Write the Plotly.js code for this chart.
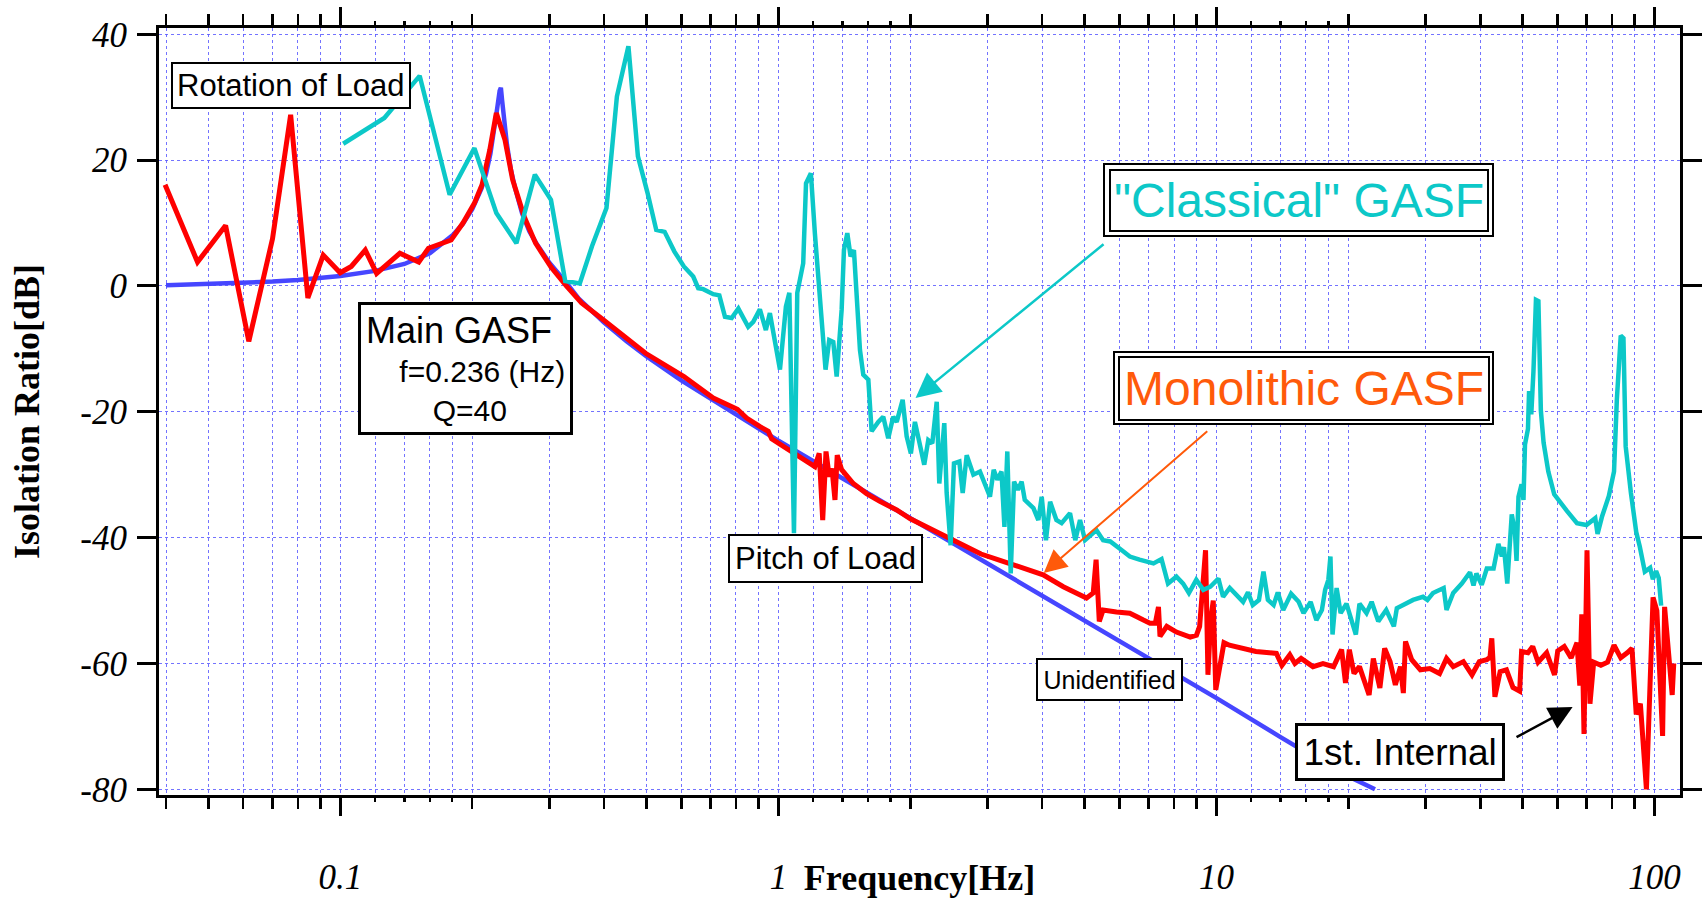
<!DOCTYPE html>
<html><head><meta charset="utf-8">
<script src="https://cdn.plot.ly/plotly-3.0.1.min.js"></script>
<style>html,body{margin:0;padding:0;background:#fff;}#chart{width:1703px;height:898px;}</style>
</head><body><div id="chart"></div>
<script>
// ---- data ----
const blueFreq = [0.04,0.05,0.06,0.07,0.08,0.09,0.1,0.12,0.14,0.16,0.18,0.19,0.2,0.21,0.215,0.22,0.225,0.228,0.231,0.2325,0.234,0.236,0.24,0.245,0.25,0.26,0.27,0.28,0.3,0.33,0.35,0.4,0.45,0.5,0.6,0.7,0.8,0.9,1,1.5,2,3,4,5,7,10,14,19,23];
const blueDb = [0.1,0.3,0.5,0.7,0.95,1.25,1.6,2.4,3.5,5.2,8.0,9.8,12.2,15.5,17.8,21.0,25.0,28.2,31.0,31.5,29.5,27.0,22.5,18.5,15.8,11.5,8.7,6.8,3.7,0.3,-2.0,-5.8,-8.8,-11.2,-15.0,-17.9,-20.4,-22.6,-24.6,-31.8,-36.9,-44.1,-49.2,-53.2,-59.2,-65.5,-71.7,-77.2,-80];

const redFreq = [0.0398,0.0472,0.0547,0.0618,0.070,0.077,0.0843,0.0914,0.0999,0.1059,0.114,0.121,0.1367,0.151,0.1589,0.172,0.179,0.1905,0.2024,0.2106,0.2193,0.227,0.2376,0.2473,0.2628,0.279,0.3026,0.328,0.3553,0.3988,0.4974,0.6085,0.71,0.806,0.846,0.9097,0.948,0.965,1.0,1.053,1.10,1.16,1.211,1.239,1.262,1.284,1.306,1.325,1.346,1.362,1.394,1.482,1.589,1.7,1.862,2.0,2.179,2.4,2.643,2.9,3.205,3.38,3.62,4.02,4.47,5.05,5.23,5.31,5.40,5.51,5.91,6.34,6.81,7.05,7.25,7.37,7.43,7.70,8.10,8.71,9.0,9.15,9.44,9.56,9.70,9.83,9.96,10.4,10.7,11.5,11.9,12.3,13.2,13.7,14.1,14.7,15.1,15.6,16.6,17.5,18.5,19.3,19.7,20.1,20.6,21.2,22.3,22.8,23.6,24.2,24.9,25.6,26.3,26.7,27.0,27.9,29.2,30.7,32.3,33.5,34.7,36.6,38.3,39.8,41.4,42.1,42.5,43.2,44.4,45.9,47.5,49.2,49.7,51.4,52.7,54.2,56.7,59.1,60.1,62.2,64.5,66.5,67.5,68.2,69.0,70.1,71.2,72.6,75.4,78.1,80.8,83.7,86.6,88.8,90.8,92.8,95.8,99.2,101.2,104.3,105.4,107.9,109.7,110.6];
const redDb = [16.1,3.8,9.6,-8.8,7.5,27.2,-1.9,4.9,2.1,3.1,5.7,2.0,5.2,3.8,6.0,6.8,7.3,10.0,13.2,16.1,21.6,27.5,23.2,16.9,11.0,6.8,3.0,0.0,-2.7,-5.4,-10.7,-14.4,-17.8,-19.6,-21.0,-22.4,-23.1,-24.3,-25.0,-26.1,-26.9,-27.9,-28.7,-26.6,-37.2,-26.3,-30.3,-29.0,-34.0,-26.9,-29.2,-31.4,-33.0,-34.2,-35.6,-37.0,-38.3,-39.8,-41.4,-42.6,-43.6,-44.1,-44.9,-45.9,-47.8,-49.6,-48.8,-43.5,-53.3,-51.5,-51.8,-52.0,-53.1,-53.6,-53.6,-51.0,-55.7,-54.1,-55.0,-55.8,-55.5,-54.1,-42.0,-61.8,-53.0,-50.0,-64.2,-56.7,-57.1,-57.6,-57.9,-58.1,-58.3,-58.4,-60.3,-58.6,-60.0,-59.2,-60.5,-60.0,-60.5,-57.8,-63.1,-57.8,-61.6,-60.5,-65.0,-59.2,-63.9,-57.6,-59.7,-63.4,-60.5,-64.7,-56.5,-59.4,-61.0,-60.8,-61.6,-59.2,-60.5,-59.7,-61.8,-59.7,-59.4,-59.0,-56.0,-65.3,-61.3,-61.0,-63.8,-64.4,-58.1,-58.3,-57.3,-59.8,-58.3,-61.8,-58.0,-57.3,-59.1,-56.7,-63.5,-52.2,-71.2,-42.0,-66.4,-59.8,-60.3,-59.8,-57.1,-59.1,-58.3,-57.6,-68.1,-66.4,-80.0,-49.5,-51.6,-71.5,-51.0,-59.0,-65.0,-60.0];

const cyanFreq = [0.1015,0.126,0.1517,0.1776,0.2023,0.227,0.2523,0.278,0.3025,0.326,0.352,0.3753,0.405,0.4278,0.4545,0.4778,0.5025,0.5261,0.5498,0.5784,0.6083,0.639,0.656,0.6735,0.7099,0.733,0.755,0.782,0.810,0.853,0.876,0.907,0.936,0.956,1.008,1.040,1.059,1.085,1.104,1.139,1.156,1.186,1.211,1.244,1.281,1.306,1.334,1.358,1.394,1.411,1.436,1.461,1.487,1.535,1.562,1.604,1.632,1.690,1.735,1.781,1.828,1.862,1.921,1.962,2.006,2.049,2.104,2.152,2.198,2.245,2.298,2.329,2.391,2.421,2.472,2.516,2.588,2.634,2.690,2.786,2.884,3.04,3.10,3.16,3.23,3.28,3.33,3.39,3.45,3.52,3.59,3.65,3.82,3.92,3.99,4.08,4.17,4.31,4.43,4.63,4.76,4.88,5.01,5.14,5.32,5.51,5.72,6.08,6.34,6.67,7.18,7.49,7.75,8.10,8.39,8.65,8.99,9.33,9.68,10.1,10.35,10.72,11.2,11.5,11.8,12.1,12.5,12.8,13.1,13.5,13.8,14.2,14.8,15.4,15.8,16.4,16.9,17.4,17.7,18.0,18.2,18.4,18.8,19.2,19.8,20.3,20.8,21.2,22.0,22.6,23.4,24.4,25.4,25.8,27.1,28.1,29.6,30.3,31.2,33.0,33.5,34.7,36.3,37.9,38.6,39.2,40.3,41.4,42.9,44.0,44.8,45.3,46.1,47.2,48.0,48.4,48.9,49.7,50.2,50.6,51.4,51.7,52.3,52.9,53.6,54.3,55.0,55.8,57.2,59.0,63.0,66.5,69.9,73.2,74.1,75.9,78.6,80.8,82.0,83.7,84.9,85.9,88.3,90.8,92.5,95.0,97.7,99.1,100.8,102.2,103.5];
const cyanDb = [22.6,26.7,33.4,14.5,21.9,11.6,6.8,17.7,13.7,0.8,0.4,6.3,12.4,30.1,38.1,20.6,14.8,8.9,8.6,5.5,3.1,1.5,-0.35,-0.5,-1.3,-1.5,-4.9,-5.1,-3.6,-6.5,-5.7,-3.7,-7.0,-4.3,-13.3,-3.3,-1.1,-39.3,-1.1,3.6,16.3,17.9,8.4,-2.7,-13.3,-8.6,-8.9,-14.4,-3.8,5.7,8.4,4.7,5.7,-10.2,-14.1,-14.9,-23.1,-21.6,-20.8,-24.2,-20.8,-21.6,-18.1,-23.9,-26.6,-21.6,-25.0,-28.4,-24.5,-25.0,-18.4,-31.4,-21.8,-32.9,-41.2,-28.2,-27.9,-32.9,-26.9,-30.0,-29.5,-33.5,-29.2,-30.8,-29.5,-38.3,-26.3,-45.7,-31.1,-32.4,-31.1,-34.0,-35.3,-37.2,-33.5,-40.4,-34.3,-37.2,-37.7,-36.1,-40.4,-37.2,-40.4,-39.8,-38.8,-40.4,-40.6,-42.0,-43.0,-43.5,-44.1,-43.4,-47.3,-46.2,-47.3,-48.8,-46.7,-48.3,-47.8,-46.5,-49.4,-48.0,-49.4,-50.2,-48.7,-50.7,-49.9,-45.4,-49.9,-50.7,-48.7,-51.5,-48.9,-50.2,-52.0,-50.2,-53.1,-51.5,-48.3,-46.7,-43.0,-55.4,-48.0,-52.0,-50.5,-53.1,-55.4,-50.5,-52.0,-50.2,-53.3,-51.5,-54.1,-51.2,-50.5,-49.9,-49.4,-49.9,-48.8,-48.0,-51.5,-48.8,-47.3,-45.5,-47.6,-45.7,-47.5,-44.9,-44.9,-41.0,-43.0,-41.5,-47.3,-36.3,-39.1,-43.7,-33.5,-31.5,-34.0,-25.2,-22.7,-16.7,-20.4,-13.6,-2.2,-2.4,-19.8,-24.9,-29.5,-33.1,-35.7,-37.7,-38.0,-36.9,-39.4,-36.6,-33.4,-29.5,-18.1,-7.9,-8.3,-25.5,-32.9,-39.1,-41.4,-45.4,-44.8,-46.6,-45.3,-46.4,-50.8];

// ---- axis ticks and labels ----
const xMajorTicks = [0.1, 1, 10, 100];
const xMajorLabels = ['0.1', '1', '10', '100'];
const xMinorTicks = [0.04,0.05,0.06,0.07,0.08,0.09,0.2,0.3,0.4,0.5,0.6,0.7,0.8,0.9,2,3,4,5,6,7,8,9,20,30,40,50,60,70,80,90];
const xSmallTicks = [0.12,0.14,0.16,0.18,1.2,1.4,1.6,1.8,12,14,16,18];
const yTicks = [-80,-60,-40,-20,0,20,40];
const yLabels = ['-80','-60','-40','-20','0','20','40'];

const CYAN = '#0cc8c8', RED = '#ff0000', BLUE = '#4646ff', ORANGE = '#ff5a0a';
const GRID = 'rgba(90,90,255,0.85)', GDASH = '3px,3px';
const XR = [-1.414, 2.058];

const traces = [
  {x: blueFreq, y: blueDb, type: 'scatter', mode: 'lines', line: {color: BLUE, width: 4.5}, hoverinfo: 'skip'},
  {x: redFreq, y: redDb, type: 'scatter', mode: 'lines', line: {color: RED, width: 5}, hoverinfo: 'skip'},
  {x: cyanFreq, y: cyanDb, type: 'scatter', mode: 'lines', line: {color: CYAN, width: 4.5}, hoverinfo: 'skip'},
  {x: [], y: [], xaxis: 'x2', yaxis: 'y', type: 'scatter', mode: 'lines', hoverinfo: 'skip', showlegend: false},
  {x: [], y: [], xaxis: 'x3', yaxis: 'y', type: 'scatter', mode: 'lines', hoverinfo: 'skip', showlegend: false}
];

const serif = 'Liberation Serif, Times New Roman, serif';
const sans = 'Liberation Sans, Arial, sans-serif';

function box(text, x, y, size, color, bw, pad, extra) {
  return Object.assign({xref: 'paper', yref: 'paper', x: x, y: y, xanchor: 'center', yanchor: 'middle',
    text: text, showarrow: false, font: {family: sans, size: size, color: color},
    bgcolor: 'white', bordercolor: 'black', borderwidth: bw, borderpad: pad}, extra || {});
}
function arrow(x, y, ax, ay, color, w, size) {
  return {xref: 'paper', yref: 'paper', x: x, y: y, ax: ax, ay: ay, text: '', showarrow: true,
    arrowhead: 2, arrowsize: size, arrowwidth: w, arrowcolor: color, standoff: 0, startstandoff: 0};
}
const NB = '\u00a0';
const annotations = [
  box('Rotation of Load', 0.0871, 0.9250, 31, 'black', 2, 4),
  box('<span style="font-size:36px">Main GASF</span><br>' + NB.repeat(4) + 'f=0.236 (Hz)<br>' + NB.repeat(8) + 'Q=40',
      0.2015, 0.5567, 30, 'black', 3, 5, {align: 'left'}),
  box('"Classical" GASF', 0.7492, 0.7751, 48, 'rgba(0,0,0,0)', 2, 8.5),
  box('"Classical" GASF', 0.7492, 0.7751, 48, CYAN, 2, 3),
  box('Monolithic GASF', 0.7525, 0.5300, 48, 'rgba(0,0,0,0)', 2, 8.3),
  box('Monolithic GASF', 0.7525, 0.5300, 48, ORANGE, 2, 4),
  box('Pitch of Load', 0.4385, 0.3083, 31, 'black', 2, 5),
  box('Unidentified', 0.6252, 0.1512, 25, 'black', 2, 5.5),
  box('1st. Internal', 0.8159, 0.0561, 37, 'black', 3, 5.5),
  arrow(0.4974, 0.5176, 189.5, -155, CYAN, 2.5, 2),
  arrow(0.5817, 0.2894, 165, -143, ORANGE, 2, 2.3),
  arrow(0.9294, 0.1147, -57.6, 31, 'black', 2.5, 1.9)
];

const gridOpts = {showgrid: true, gridcolor: GRID, gridwidth: 1, griddash: GDASH, zeroline: false};

const layout = {
  width: 1703, height: 898,
  margin: {l: 159, r: 23, t: 28, b: 103, pad: 0},
  paper_bgcolor: 'white', plot_bgcolor: 'white',
  showlegend: false,
  // main x axis: labelled decades (its own tick marks are transparent; the labels offset comes from ticklen)
  xaxis: Object.assign({
    type: 'log', range: XR, autorange: false, automargin: false,
    tickmode: 'array', tickvals: xMajorTicks, ticktext: xMajorLabels,
    ticks: 'outside', ticklen: 49, tickwidth: 1, tickcolor: 'rgba(0,0,0,0)',
    showline: true, linewidth: 3, linecolor: 'black', mirror: 'ticks',
    tickfont: {family: serif, size: 35, style: 'italic', color: 'black'},
    ticklabelstandoff: 0,
    minor: {tickmode: 'array', tickvals: xMinorTicks, ticks: 'outside', ticklen: 11, tickwidth: 2.5,
      tickcolor: 'black', showgrid: true, gridcolor: GRID, gridwidth: 1, griddash: GDASH}
  }, gridOpts),
  // small ticks at 1.2..1.8 per decade, and axis title
  xaxis2: Object.assign({
    type: 'log', range: XR, autorange: false, overlaying: 'x', anchor: 'y', side: 'bottom', automargin: false,
    tickmode: 'array', tickvals: xSmallTicks, ticks: 'outside', ticklen: 6, tickwidth: 2.5, tickcolor: 'black',
    showticklabels: false, showline: false, mirror: 'ticks',
    title: {text: 'Frequency[Hz]', standoff: 66, font: {family: serif, size: 36, weight: 'bold', color: 'black'}}
  }, gridOpts),
  // visible long decade ticks
  xaxis3: {
    type: 'log', range: XR, autorange: false, overlaying: 'x', anchor: 'y', side: 'bottom', automargin: false,
    tickmode: 'array', tickvals: xMajorTicks, ticks: 'outside', ticklen: 20, tickwidth: 2.5, tickcolor: 'black',
    showticklabels: false, showline: false, mirror: 'ticks', showgrid: false, zeroline: false
  },
  yaxis: Object.assign({
    range: [-80.9, 41.0], autorange: false, automargin: false,
    tickmode: 'array', tickvals: yTicks, ticktext: yLabels,
    ticks: 'outside', ticklen: 19, tickwidth: 3, tickcolor: 'black',
    showline: true, linewidth: 3, linecolor: 'black', mirror: 'ticks',
    tickfont: {family: serif, size: 35, style: 'italic', color: 'black'},
    ticklabelstandoff: 3,
    title: {text: 'Isolation Ratio[dB]', standoff: 30, font: {family: serif, size: 36, weight: 'bold', color: 'black'}}
  }, gridOpts),
  annotations: annotations
};

Plotly.newPlot('chart', traces, layout, {displayModeBar: false, staticPlot: true});
</script>
</body></html>
